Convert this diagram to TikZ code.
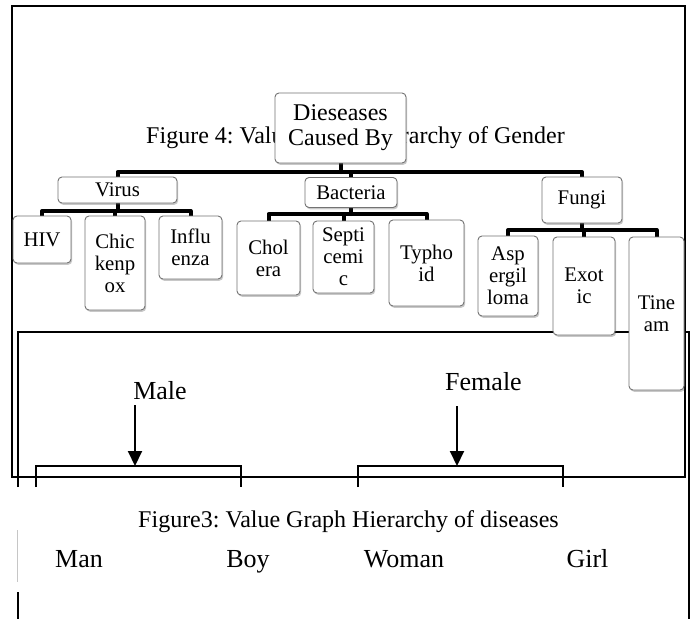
\documentclass[tikz,border=0pt]{standalone}
\usepackage{fontspec}
\setmainfont{Liberation Serif}
\usetikzlibrary{arrows.meta,shadows}
\pgfdeclarelayer{bg}
\pgfsetlayers{bg,main}
\frenchspacing
\newcommand\fsz[2]{\fontsize{#1}{#2}\selectfont}
\begin{document}
\begin{tikzpicture}[x=1pt,y=-1pt,
  frameline/.style={line width=1.8pt},
  bracketline/.style={line width=1.8pt},
  arr/.style={line width=2pt,-{Triangle[length=15pt,width=14pt]}},
  conn/.style={line width=4pt,line join=round,line cap=round},
  box/.style={draw=black!55,line width=0.9pt,rounded corners=4pt,fill=white,
    inner sep=0pt,align=center,font=\fsz{20.8}{22},
    drop shadow={shadow xshift=1.2pt,shadow yshift=-1.8pt,opacity=0.3,fill=black!70}},
  rootbox/.style={box,font=\fsz{24}{25}},
  caption/.style={anchor=base,inner sep=0pt,font=\fsz{24}{26}},
  word/.style={anchor=base,inner sep=0pt,font=\fsz{26}{28}}]
\useasboundingbox (0,0) rectangle (691,619);
\begin{pgfonlayer}{bg}
  \fill[white] (0,0) rectangle (691,619);
\end{pgfonlayer}

% frames
\draw[frameline] (12,6) rectangle (685,477);
\draw[frameline] (18,487) |- (689,332) -- (689,619);
\draw[gray!45,line width=0.6pt] (17,530) -- (17,582);
\draw[line width=1.5pt] (18,592) -- (18,619);

% gender hierarchy
\node[word] (male) at (160,399) {Male};
\node[word] (female) at (483.5,390) {Female};
\coordinate (mtail) at (135,405);
\coordinate (mtip) at (135,466);
\coordinate (ftail) at (457,406);
\coordinate (ftip) at (457,466);
\draw[arr] (mtail) -- (mtip);
\draw[arr] (ftail) -- (ftip);
\draw[bracketline] (36,487) |- (241,466) -- (241,487);
\draw[bracketline] (358,487) |- (563,466) -- (563,487);
\node[caption] (cap3) at (348.5,527) {Figure3: Value Graph Hierarchy of diseases};
\node[word] (man) at (79,567) {Man};
\node[word] (boy) at (248,567) {Boy};
\node[word] (woman) at (404,567) {Woman};
\node[word] (girl) at (587.5,567) {Girl};

% disease hierarchy
\node[caption] (cap4) at (355.5,143) {Figure 4: Value Graph Hierarchy of Gender};
\node[rootbox,minimum width=131pt,minimum height=70pt] (root) at (340.5,128) {Dieseases\\Caused By};
\node[box,minimum width=119pt,minimum height=26pt] (virus) at (117.5,190) {Virus};
\node[box,minimum width=92pt,minimum height=30pt] (bact) at (351,192.5) {Bacteria};
\node[box,minimum width=80pt,minimum height=46pt] (fungi) at (582,200) {Fungi};
\node[box,minimum width=58pt,minimum height=47pt] (hiv) at (42,239.5) {HIV};
\node[box,minimum width=60pt,minimum height=94pt] (chick) at (115,263) {Chic\\kenp\\ox};
\node[box,minimum width=63pt,minimum height=63pt] (influ) at (190.5,247.5) {Influ\\enza};
\node[box,minimum width=63pt,minimum height=74pt] (chol) at (268.5,258) {Chol\\era};
\node[box,minimum width=61pt,minimum height=72pt] (sept) at (343.5,257) {Septi\\cemi\\c};
\node[box,minimum width=75pt,minimum height=86pt] (typh) at (426.5,263) {Typho\\id};
\node[box,minimum width=60pt,minimum height=80pt] (asp) at (508,276) {Asp\\ergil\\loma};
\node[box,minimum width=62pt,minimum height=98pt] (exot) at (584,286) {Exot\\ic};
\node[box,minimum width=55pt,minimum height=153pt] (tine) at (656.5,313.5) {Tine\\am};

\coordinate (b0) at (0,172);
\coordinate (b1) at (0,211);
\coordinate (b2) at (0,214);
\coordinate (b3) at (0,230);
\begin{pgfonlayer}{bg}
  \draw[conn] (root.south) -- (root.south |- b0);
  \draw[conn] (virus.north) -- (virus.north |- b0) -- (fungi.north |- b0) -- (fungi.north);
  \draw[conn] (bact.north) -- (bact.north |- b0);
  \draw[conn] (virus.south) -- (virus.south |- b1);
  \draw[conn] (hiv.north) -- (hiv.north |- b1) -- (influ.north |- b1) -- (influ.north);
  \draw[conn] (chick.north) -- (chick.north |- b1);
  \draw[conn] (bact.south) -- (bact.south |- b2);
  \draw[conn] (chol.north) -- (chol.north |- b2) -- (typh.north |- b2) -- (typh.north);
  \draw[conn] (sept.north) -- (sept.north |- b2);
  \draw[conn] (fungi.south) -- (fungi.south |- b3);
  \draw[conn] (asp.north) -- (asp.north |- b3) -- (tine.north |- b3) -- (tine.north);
  \draw[conn] (exot.north) -- (exot.north |- b3);
\end{pgfonlayer}
\end{tikzpicture}
\end{document}
